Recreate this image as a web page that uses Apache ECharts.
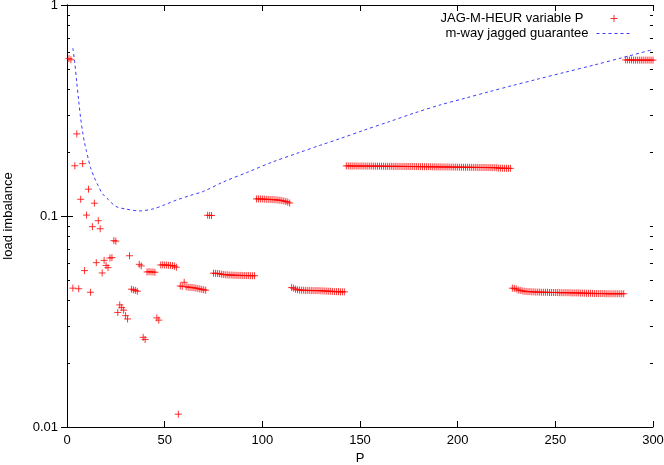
<!DOCTYPE html>
<html><head><meta charset="utf-8">
<script src="https://cdn.jsdelivr.net/npm/echarts@6/dist/echarts.min.js"></script>
<style>html,body{margin:0;padding:0;background:#fff}#c{width:664px;height:465px}</style>
</head><body><div id="c"></div>
<script>
// x ticks and y ticks
const xTicks = [0, 50, 100, 150, 200, 250, 300];
const yTicks = [0.01, 0.1, 1];
const yMinorTicks = [0.02,0.03,0.04,0.05,0.06,0.07,0.08,0.09,0.2,0.3,0.4,0.5,0.6,0.7,0.8,0.9];

// JAG-M-HEUR load imbalance, one value per processor count P (starting at P=1)
const firstP = 1;
const imbalanceA = [ // P 1..74
  0.557,0.55,0.0455,0.173,0.245,0.0452,0.120,0.177,0.0551,0.101,
  0.134,0.0435,0.089,0.115,0.0601,0.095,0.087,0.0537,0.0616,0.0583,
  0.0569,0.0632,0.0635,0.0764,0.0760,0.0349,0.0379,0.0368,0.0358,0.0337,
  0.0325,0.0648,0.0450,0.0447,0.0444,0.0440,0.0590,0.0580,0.0266,0.0260,
  0.0543,0.0545,0.0543,0.0543,0.0541,0.0329,0.0321,0.0586,0.0587,0.0586,
  0.0585,0.0584,0.0583,0.0582,0.0578,0.0572,0.0115,0.0466,0.0464,0.0485,
  0.0462,0.0460,0.0459,0.0458,0.0457,0.0455,0.0453,0.0451,0.0449,0.0447,
  0.0445,0.1008,0.1006,0.1005
];
const imbalanceB = [ // P 75..142
  0.0536,0.0535,0.0534,0.0533,0.0530,0.0528,0.0527,0.0526,0.0525,0.0525,
  0.0524,0.0524,0.0523,0.0523,0.0523,0.0522,0.0522,0.0522,0.0522,0.0521,
  0.0521,0.0521,
  0.1205,0.1205,0.1204,0.1203,0.1202,0.1200,0.1199,0.1198,0.1196,0.1195,
  0.1193,0.1190,0.1187,0.1183,0.1178,0.1172,0.1163,0.1152,
  0.0458,0.0455,0.0450,0.0447,0.0446,0.0445,0.0445,0.0444,0.0444,0.0444,
  0.0443,0.0443,0.0443,0.0443,0.0443,0.0442,0.0442,0.0441,0.0441,0.0440,
  0.0440,0.0439,0.0438,0.0438,0.0438,0.0437,0.0437,0.0437
];
const imbalanceC = [ // P 143..227
  0.1728,0.1727,0.1727,0.1726,0.1726,0.1726,0.1725,0.1725,0.1725,0.1725,
  0.1724,0.1724,0.1724,0.1724,0.1723,0.1723,0.1723,0.1722,
  0.1722,0.1721,0.1721,0.1720,0.1720,0.1720,0.1719,0.1719,0.1719,0.1718,
  0.1718,0.1718,0.1717,0.1717,0.1716,0.1716,0.1716,0.1715,0.1715,0.1714,
  0.1714,0.1713,0.1713,0.1712,0.1712,
  0.1711,0.1711,0.1710,0.1710,0.1709,0.1709,0.1708,0.1708,0.1707,0.1707,
  0.1706,0.1706,0.1705,0.1705,0.1704,0.1704,0.1703,0.1703,0.1702,0.1702,
  0.1701,0.1701,0.1700,0.1700,0.1699,0.1699,0.1698,0.1698,0.1697,0.1697,
  0.1696,0.1696,0.1695,0.1695,0.1694,
  0.1686,0.1685,0.1684,0.1683,0.1683,0.1682,0.1682
];
const imbalanceD = [ // P 228..300
  0.0455,0.0454,0.0451,
  0.0446,0.0444,0.0442,0.0440,0.0439,0.0438,0.0438,0.0437,0.0437,0.0436,
  0.0436,0.0436,0.0435,0.0435,0.0435,0.0435,0.0434,0.0434,0.0434,0.0434,
  0.0434,0.0433,0.0433,0.0433,0.0433,0.0433,0.0433,0.0432,0.0432,0.0432,
  0.0432,0.0432,0.0431,0.0431,0.0431,
  0.0430,0.0430,0.0430,0.0430,0.0429,0.0429,0.0429,0.0429,0.0429,0.0429,
  0.0428,0.0428,0.0428,0.0428,0.0428,0.0428,0.0428,0.0428,0.0428,0.0428,
  0.549,0.549,0.549,0.549,0.548,0.548,0.548,0.548,0.548,0.548,
  0.548,0.548,0.548,0.548,0.548
];

// m-way jagged guarantee
const guarP   = [3, 4, 5, 6, 7, 8, 9, 10, 11, 12, 14, 16, 18, 21, 25, 30, 37, 44, 50, 56, 63, 70, 80, 93, 105, 119, 130, 140, 152, 165, 178, 191, 204, 216, 228, 240, 255, 270, 285, 300];
const guarVal = [0.625,0.53,0.43,0.35,0.29,0.25,0.222,0.202,0.185,0.17,0.152,0.139,0.128,0.12,0.111,0.108,0.1057,0.108,0.113,0.119,0.125,0.131,0.145,0.162,0.18,0.200,0.217,0.233,0.255,0.28,0.308,0.336,0.362,0.388,0.415,0.443,0.48,0.52,0.565,0.615];

const seriesNames = ['JAG-M-HEUR variable P', 'm-way jagged guarantee'];

const imbalance = imbalanceA.concat(imbalanceB, imbalanceC, imbalanceD);
const scatterData = imbalance.map((v, i) => [firstP + i, v]);
const guarData = guarP.map((p, i) => [p, guarVal[i]]);

const FONT = 'Liberation Sans';
const RED = '#ff0000', BLUE = '#3c3cff';
const crossPath = 'path://M3.5,0 L3.5,7 M0,3.5 L7,3.5';
const crossStyle = { color: 'rgba(0,0,0,0)', borderColor: RED, borderWidth: 1 };
const dashIconStyle = { color: 'rgba(0,0,0,0)', borderColor: BLUE, borderWidth: 1 };

const chart = echarts.init(document.getElementById('c'), null, { renderer: 'canvas' });

const axisCommon = {
  axisLine: { show: true, lineStyle: { color: '#000', width: 1 } },
  axisTick: { show: true, inside: true, length: 6, lineStyle: { color: '#000', width: 1 } },
  splitLine: { show: false },
  axisLabel: { color: '#000', fontFamily: FONT, fontSize: 13 }
};

chart.setOption({
  animation: false,
  backgroundColor: '#fff',
  grid: { left: 67, right: 11, top: 5, bottom: 38, containLabel: false, outerBoundsMode: 'none' },
  legend: [
    {
      data: [{ name: seriesNames[0], icon: 'path://M0,0 M35,7 M17.5,0 L17.5,7 M14,3.5 L21,3.5', itemStyle: crossStyle }],
      right: 27, top: 7, align: 'right', itemWidth: 35, itemHeight: 7,
      textStyle: { fontFamily: FONT, fontSize: 13, color: '#000', padding: [0, 8, 0, 0] },
      selectedMode: false
    },
    {
      data: [{ name: seriesNames[1], icon: 'path://M0,0 M35,7 M0,3.5 L3,3.5 M6,3.5 L9,3.5 M12,3.5 L15,3.5 M18,3.5 L21,3.5 M24,3.5 L27,3.5 M30,3.5 L33,3.5', itemStyle: dashIconStyle }],
      right: 27, top: 22, align: 'right', itemWidth: 35, itemHeight: 7,
      textStyle: { fontFamily: FONT, fontSize: 13, color: '#000', padding: [0, 3, 0, 0] },
      selectedMode: false
    }
  ],
  xAxis: [
    Object.assign({}, axisCommon, {
      type: 'value', min: xTicks[0], max: xTicks[xTicks.length - 1], interval: 50, position: 'bottom',
      name: 'P', nameLocation: 'middle', nameGap: 19,
      nameTextStyle: { color: '#000', fontFamily: FONT, fontSize: 13 },
      axisLabel: Object.assign({}, axisCommon.axisLabel, { margin: 7 })
    }),
    Object.assign({}, axisCommon, {
      type: 'value', min: xTicks[0], max: xTicks[xTicks.length - 1], interval: 50, position: 'top',
      axisLabel: { show: false }
    })
  ],
  yAxis: [
    Object.assign({}, axisCommon, {
      type: 'log', logBase: 10, min: yTicks[0], max: yTicks[yTicks.length - 1], position: 'left',
      name: 'load imbalance', nameLocation: 'middle', nameGap: 52,
      nameTextStyle: { color: '#000', fontFamily: FONT, fontSize: 13 },
      axisLabel: Object.assign({}, axisCommon.axisLabel, { margin: 9, formatter: v => String(+v.toPrecision(3)) })
    }),
    Object.assign({}, axisCommon, {
      type: 'log', logBase: 10, min: yTicks[0], max: yTicks[yTicks.length - 1], position: 'right',
      axisLabel: { show: false }
    })
  ],
  series: [
    {
      name: seriesNames[0], type: 'scatter', xAxisIndex: 0, yAxisIndex: 0,
      data: scatterData, symbol: crossPath, symbolSize: 7,
      itemStyle: crossStyle, z: 3, silent: true
    },
    {
      name: seriesNames[1], type: 'line', xAxisIndex: 0, yAxisIndex: 0,
      data: guarData, symbol: 'none', showSymbol: false, smooth: 0.3,
      lineStyle: { color: BLUE, width: 1, type: [3, 3] }, z: 2, silent: true
    },
    {
      type: 'custom', xAxisIndex: 0, yAxisIndex: 0, silent: true, clip: false, z: 5,
      data: yMinorTicks.map(v => [0, v]),
      renderItem: function (params, api) {
        const cs = params.coordSys;
        const y = Math.round(api.coord([0, api.value(1)])[1]) + 0.5;
        return {
          type: 'group',
          children: [
            { type: 'line', shape: { x1: cs.x, y1: y, x2: cs.x + 3, y2: y }, style: { stroke: '#000', lineWidth: 1 } },
            { type: 'line', shape: { x1: cs.x + cs.width - 3, y1: y, x2: cs.x + cs.width, y2: y }, style: { stroke: '#000', lineWidth: 1 } }
          ]
        };
      }
    }
  ]
});
</script>
</body></html>
